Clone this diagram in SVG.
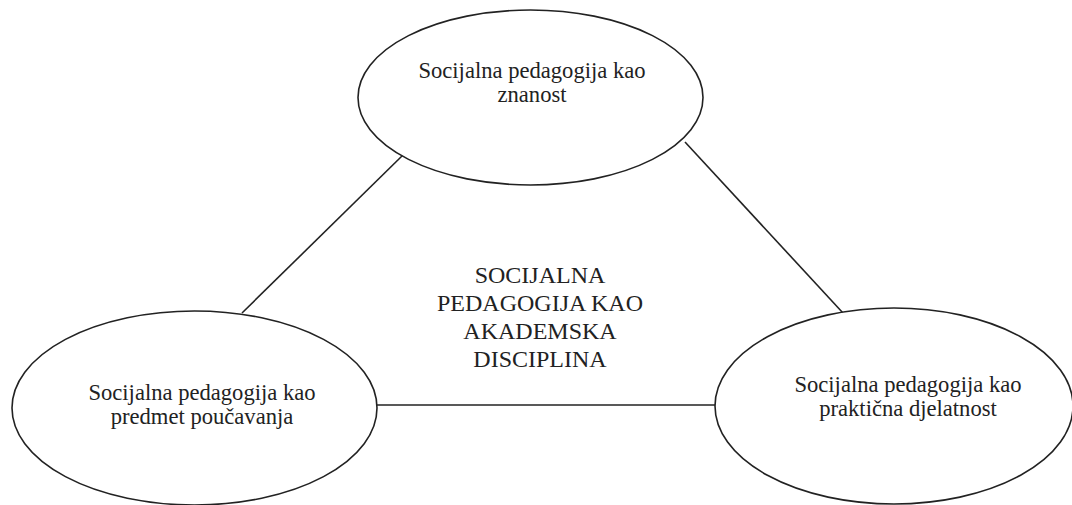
<svg xmlns="http://www.w3.org/2000/svg" width="1072" height="505" viewBox="0 0 1072 505">
<style>
.node ellipse{fill:#fff;stroke:#222;stroke-width:1.6}
.edge{stroke:#222;stroke-width:1.6;fill:none}
.t{font-family:"Liberation Serif","Times New Roman",serif;font-size:22.6px;fill:#222;text-anchor:middle}
.c{font-family:"Liberation Serif","Times New Roman",serif;font-size:24px;fill:#222;text-anchor:middle}
</style>
<rect width="1072" height="505" fill="#fff"/>
<g id="connectors">
<line class="edge" x1="403" y1="155" x2="242" y2="313"/>
<line class="edge" x1="685" y1="142" x2="843" y2="313"/>
<line class="edge" x1="377" y1="405" x2="715" y2="405"/>
</g>
<g id="node-znanost" class="node">
<ellipse cx="530.5" cy="97.5" rx="172.5" ry="87.5"/>
<text class="t" x="532" y="78">Socijalna pedagogija kao</text>
<text class="t" x="532" y="102">znanost</text>
</g>
<g id="node-predmet" class="node">
<ellipse cx="194.5" cy="408" rx="182.5" ry="97"/>
<text class="t" x="202" y="400">Socijalna pedagogija kao</text>
<text class="t" x="202" y="424">predmet poučavanja</text>
</g>
<g id="node-praksa" class="node">
<ellipse cx="894" cy="406" rx="179" ry="98"/>
<text class="t" x="908" y="392">Socijalna pedagogija kao</text>
<text class="t" x="908" y="416">praktična djelatnost</text>
</g>
<g id="center">
<text class="c" x="540" y="283">SOCIJALNA</text>
<text class="c" x="540" y="311">PEDAGOGIJA KAO</text>
<text class="c" x="540" y="339">AKADEMSKA</text>
<text class="c" x="540" y="367">DISCIPLINA</text>
</g>
</svg>
